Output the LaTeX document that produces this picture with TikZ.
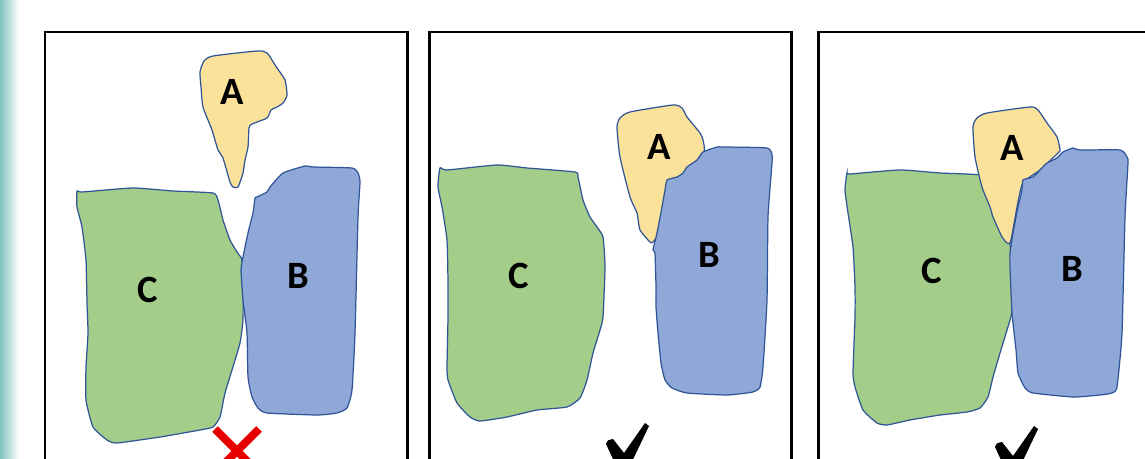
\documentclass[tikz,border=0pt]{standalone}
\usepackage{fontspec}
\setmainfont{Carlito}
\begin{document}
\begin{tikzpicture}[x=0.02cm,y=-0.02cm,
  blobA/.style={fill={rgb,255:red,251;green,226;blue,154},draw={rgb,255:red,47;green,85;blue,151},line width=0.7pt},
  blobB/.style={fill={rgb,255:red,143;green,168;blue,216},draw={rgb,255:red,47;green,85;blue,151},line width=0.7pt},
  blobC/.style={fill={rgb,255:red,163;green,205;blue,137},draw={rgb,255:red,47;green,85;blue,151},line width=0.7pt},
  panel/.style={draw=black,line width=1.7pt},
  lbl/.style={font=\fontsize{22}{24}\selectfont\bfseries,inner sep=0pt},
  checkmk/.style={fill=black},
  crossmk/.style={draw={rgb,255:red,230;green,0;blue,0},line width=4.6pt}]
\useasboundingbox (0,0) rectangle (1145,459);
\clip (0,0) rectangle (1145,459);
% left strip
\shade[left color={rgb,255:red,128;green,196;blue,192},right color=white] (0,0) rectangle (19,459);
\fill[white] (19,0) rectangle (1145,459);
% panels
\draw[panel] (45,500) -- (45,32) -- (407,32) -- (407,500);
\draw[panel] (429,500) -- (429,32) -- (791,32) -- (791,500);
\draw[panel] (818,500) -- (818,32) -- (1160,32);

% ---------- panel 1 ----------
\draw[blobA] plot[smooth cycle,tension=0.35] coordinates {(200,72) (204,61) (213,56) (257,51) (267,53) (277,68) (285,80) (287,95) (283,103) (277,107) (271,110) (267,118) (252,124) (249,128) (248,147) (245,160) (243,173) (238,187) (233,187) (230,182) (223,158) (218,150) (212,130) (203,107) (201,87)};
\draw[blobC] plot[smooth cycle,tension=0.3] coordinates {(77,191) (82,192) (133,188) (173,191) (213,193) (218,200) (223,220) (230,240) (237,252) (242,260) (243,287) (243,320) (240,343) (232,370) (225,393) (220,417) (213,427) (200,430) (160,437) (117,443) (107,440) (93,427) (86,400) (86,367) (88,333) (87,303) (86,260) (82,227) (77,207)};
\draw[blobB] plot[smooth cycle,tension=0.3] coordinates {(255,198) (257,197) (267,192) (270,187) (283,173) (305,166) (313,167) (352,168) (358,173) (360,182) (358,217) (355,333) (352,390) (347,408) (337,413) (317,415) (267,413) (258,408) (252,397) (248,377) (247,333) (243,300) (241,270) (243,257) (248,233) (253,213)};
\node[lbl] (a1) at (232,92) {A};
\node[lbl] (b1) at (298,276) {B};
\node[lbl] (c1) at (148,290) {C};
\draw[crossmk] (215,429) -- (259,473) (259,429) -- (215,473);

% ---------- panel 2 ----------
\draw[blobA] plot[smooth cycle,tension=0.35] coordinates {(617,127) (620,118) (630,112) (673,105) (682,108) (687,117) (700,133) (703,140) (704,152) (690,172) (668,185) (660,230) (653,242) (650,242) (640,230) (637,213) (630,197) (620,157)};
\draw[blobC] plot[smooth cycle,tension=0.3] coordinates {(440,168) (447,170) (497,165) (527,168) (575,172) (578,177) (583,200) (590,217) (597,227) (603,237) (605,267) (603,317) (600,330) (593,353) (587,380) (580,398) (567,407) (537,410) (507,417) (480,421) (470,417) (457,403) (448,380) (447,367) (448,317) (448,283) (447,240) (442,207) (438,187)};
\draw[blobB] plot[smooth cycle,tension=0.3] coordinates {(667,180) (677,177) (683,173) (687,167) (697,160) (703,152) (717,147) (723,147) (767,148) (772,155) (772,163) (768,217) (767,300) (763,367) (760,387) (753,392) (727,395) (687,393) (672,388) (665,380) (661,363) (658,333) (656,307) (656,287) (655,253) (653,250) (657,233) (662,207) (665,190)};
\node[lbl] (a2) at (659,147) {A};
\node[lbl] (b2) at (709,255) {B};
\node[lbl] (c2) at (519,276) {C};
\fill[checkmk] (606,444) .. controls (607,440) and (610,439) .. (613,439) -- (624,453) -- (645,423) -- (649,426) -- (627,472) -- (619,472) -- cycle;

% ---------- panel 3 ----------
\draw[blobC] plot[smooth cycle,tension=0.3] coordinates {(847,173) (850,174) (900,170) (940,173) (980,175) (1000,185) (1011,253) (1012,310) (1007,330) (1000,353) (993,377) (988,397) (980,408) (967,412) (940,415) (910,420) (887,425) (877,423) (863,410) (855,387) (853,373) (855,317) (855,287) (853,247) (848,213) (845,190)};
\draw[blobA] plot[smooth cycle,tension=0.35] coordinates {(973,127) (977,118) (987,113) (1030,107) (1038,110) (1047,123) (1057,137) (1060,150) (1058,153) (1040,170) (1022,185) (1012,235) (1010,243) (1007,243) (1002,237) (993,217) (990,207) (982,187) (975,157)};
\draw[blobB] plot[smooth cycle,tension=0.3] coordinates {(1023,180) (1033,177) (1040,170) (1047,163) (1057,158) (1063,152) (1073,148) (1080,150) (1120,150) (1127,157) (1128,163) (1125,217) (1122,333) (1117,387) (1112,393) (1100,395) (1073,397) (1033,393) (1025,388) (1018,373) (1016,350) (1012,313) (1010,267) (1010,253) (1013,233) (1018,207) (1022,190)};
\node[lbl] (a3) at (1012,148) {A};
\node[lbl] (b3) at (1072,269) {B};
\node[lbl] (c3) at (932,271) {C};
\fill[checkmk,shift={(389,3)}] (606,444) .. controls (607,440) and (610,439) .. (613,439) -- (624,453) -- (645,423) -- (649,426) -- (627,472) -- (619,472) -- cycle;
\end{tikzpicture}
\end{document}
